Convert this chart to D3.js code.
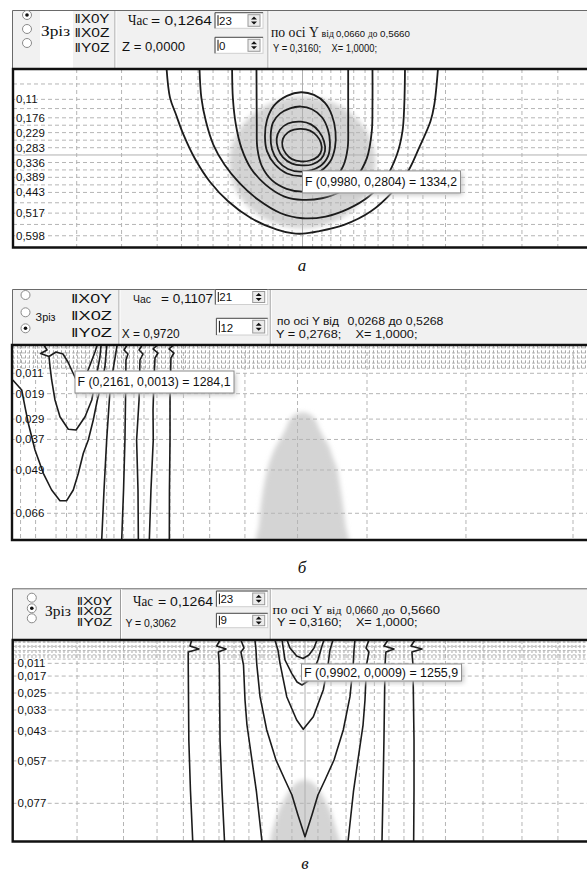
<!DOCTYPE html>
<html>
<head>
<meta charset="utf-8">
<script src="https://cdn.jsdelivr.net/npm/d3@7"></script>
<style>
  body { margin: 0; background: #fff; }
  svg { display: block; }
</style>
</head>
<body>
<svg id="fig"></svg>
<script>
// ---------- panel a : slice || X0Y ----------
const ticksA = [0.11, 0.176, 0.229, 0.283, 0.336, 0.389, 0.443, 0.517, 0.598];
const rowsA = [0.055, 0.143, 0.2025, 0.256, 0.3625, 0.416, 0.48, 0.5575];
const colsA = [0.220, 0.375, 0.498, 0.582, 0.639, 0.691, 0.743, 0.784, 0.822, 0.860, 0.898, 0.933, 0.964,
  1.035, 1.067, 1.098, 1.132, 1.177, 1.216, 1.261, 1.313, 1.364, 1.416, 1.494, 1.623, 1.758, 1.882];
const crossA = [1.0, 0.309];
const discA = [1.0, 0.336, 0.252, 0.235]; // centre x, centre y, radius x, radius y
const isoA1 = [[0.5305,0],[0.5423,0.1037],[0.5630,0.1644],[0.5889,0.2365],[0.6276,0.3208],[0.6794,0.4038],[0.7440,0.4756],[0.8214,0.5347],[0.9119,0.5762],[0.9637,0.5889],[1.0,0.5905],[1.0535,0.5825],[1.1433,0.5592],[1.2352,0.5114],[1.3125,0.4389],[1.3643,0.3680],[1.4023,0.2844],[1.4421,0.1886],[1.4552,0.1293],[1.4680,0]];
const isoA2 = [[0.6442,0],[0.6507,0.1050],[0.6663,0.1886],[0.6922,0.2726],[0.7309,0.3441],[0.7827,0.4098],[0.8473,0.4695],[0.9250,0.5174],[1.0,0.5353],[1.0801,0.5292],[1.1578,0.5018],[1.2289,0.4577],[1.2870,0.3920],[1.3260,0.3083],[1.3453,0.2247],[1.3516,0.1290],[1.3540,0]];
const isoA3 = [[0.7568,0],[0.7595,0.1050],[0.7699,0.2008],[0.7892,0.2844],[0.8214,0.3562],[0.8732,0.4159],[0.9379,0.4577],[1.0,0.4695],[1.0673,0.4638],[1.1320,0.4399],[1.1838,0.3920],[1.2224,0.3202],[1.2393,0.2247],[1.2417,0.1290],[1.2417,0]];
const isoA4 = [[0.8410,0],[0.8415,0.1050],[0.8420,0.2008],[0.8440,0.2844],[0.8600,0.3500],[0.8950,0.4000],[0.9450,0.4300],[1.0,0.4400],[1.0550,0.4300],[1.1050,0.4000],[1.1400,0.3500],[1.1560,0.2844],[1.1578,0.2008],[1.1578,0.1050],[1.1578,0]];
const ringA1 = [[0.9948,0.0846],[1.0397,0.0942],[1.0776,0.1229],[1.1018,0.1676],[1.1139,0.2250],[1.1122,0.2825],[1.0949,0.3336],[1.0535,0.3719],[0.9982,0.3846],[0.9464,0.3751],[0.9049,0.3431],[0.8773,0.2953],[0.8704,0.2410],[0.8773,0.1835],[0.9015,0.1325],[0.9464,0.0974]];
const ringA2 = [[0.9948,0.1357],[1.0327,0.1452],[1.0673,0.1740],[1.0880,0.2187],[1.0949,0.2665],[1.0880,0.3144],[1.0604,0.3495],[0.9982,0.3687],[0.9499,0.3591],[0.9153,0.3304],[0.8946,0.2889],[0.8901,0.2410],[0.8980,0.1931],[0.9222,0.1612],[0.9568,0.1420]];
const ringA3 = [[0.9948,0.1899],[1.0293,0.1995],[1.0569,0.2250],[1.0742,0.2601],[1.0776,0.2953],[1.0638,0.3240],[1.0327,0.3431],[0.9982,0.3463],[0.9637,0.3399],[0.9326,0.3176],[0.9153,0.2857],[0.9108,0.2506],[0.9222,0.2187],[0.9499,0.1963]];
const ringA4 = [[0.9948,0.2155],[1.0258,0.2218],[1.0500,0.2410],[1.0638,0.2665],[1.0656,0.2921],[1.0535,0.3144],[1.0258,0.3288],[0.9948,0.3320],[0.9637,0.3240],[0.9429,0.3048],[0.9309,0.2793],[0.9326,0.2506],[0.9499,0.2282],[0.9706,0.2187]];
const tipA = "F (0,9980, 0,2804) = 1334,2";
const tipAtA = [1.0, 0.366];

// ---------- panel б : slice || Y0Z ----------
const ticksB = [0.011, 0.019, 0.029, 0.037, 0.049, 0.066];
const colsB = [0.0329, 0.0459, 0.0636, 0.0727, 0.0815, 0.0895, 0.0987, 0.1074, 0.1137, 0.1220, 0.1310,
  0.1397, 0.1509, 0.1622, 0.1738, 0.1965, 0.2270, 0.2725, 0.3326, 0.4182, 0.5108];
const fineRows = [0.001, 0.003, 0.005, 0.007, 0.009];
const lobeB = [[0.2768,0.02632],[0.2842,0.02739],[0.2885,0.02974],[0.2911,0.03261],[0.2955,0.03642],[0.2997,0.03968],[0.3032,0.04428],[0.3066,0.04833],[0.3092,0.05489],[0.3118,0.06275],[0.3140,0.0706],[0.3153,0.07846],[0.2379,0.07846],[0.2392,0.0706],[0.2409,0.06275],[0.2435,0.05489],[0.2467,0.04833],[0.2495,0.04428],[0.2539,0.03968],[0.2582,0.03642],[0.2625,0.03261],[0.2651,0.02974],[0.2694,0.02739]];
const isoB0 = [[0.0575,0.0044],[0.0636,0.00263],[0.0696,0.00342],[0.0739,0.00656],[0.0791,0.01167],[0.0835,0.01599],[0.0887,0.01285],[0.0930,0.00774],[0.0973,0.00263],[0.0990,0]];
const isoB1 = [[0.0532,0],[0.0558,0.00185],[0.0502,0.00322],[0.0575,0.0044],[0.0584,0.00841],[0.0598,0.01363],[0.0627,0.02149],[0.0670,0.02805],[0.0742,0.03300],[0.0809,0.03328],[0.0887,0.02805],[0.0945,0.02149],[0.0973,0.01481],[0.0995,0.00970],[0.1016,0.00460],[0.1025,0]];
const isoB2 = [[0.0262,0.01363],[0.0339,0.01756],[0.0367,0.02412],[0.0396,0.03065],[0.0454,0.04114],[0.0526,0.05029],[0.0598,0.05685],[0.0670,0.06106],[0.0728,0.06106],[0.0785,0.05685],[0.0829,0.05029],[0.0872,0.04243],[0.0915,0.03721],[0.0958,0.02935],[0.0993,0.02149],[0.1031,0.01493],[0.1059,0.00841],[0.1074,0.00055],[0.1076,0]];
const isoB3 = [[0.1163,0],[0.1155,0.00263],[0.1129,0.00970],[0.1103,0.01756],[0.1074,0.03721],[0.1051,0.05685],[0.1031,0.0765]];
const isoB4 = [[0.1250,0],[0.1224,0.00185],[0.1258,0.00342],[0.1241,0.00578],[0.1237,0.02149],[0.1232,0.03721],[0.1220,0.05685],[0.1204,0.0765]];
const isoB5 = [[0.1380,0],[0.1354,0.00185],[0.1388,0.00342],[0.1362,0.00578],[0.1354,0.02149],[0.1333,0.03721],[0.1345,0.05685],[0.1348,0.0765]];
const isoB6 = [[0.1509,0],[0.1475,0.00145],[0.1518,0.00303],[0.1492,0.00499],[0.1483,0.01363],[0.1475,0.02542],[0.1477,0.03721],[0.1457,0.05685],[0.1443,0.0765]];
const isoB7 = [[0.1648,0],[0.1613,0.00145],[0.1656,0.00303],[0.1630,0.00499],[0.1622,0.02149],[0.1622,0.03721],[0.1617,0.05685],[0.1616,0.0765]];
const tipB = "F (0,2161, 0,0013) = 1284,1";
const tipAtB = [0.0800, 0.0101];

// ---------- panel в : slice || X0Z ----------
const ticksC = [0.011, 0.017, 0.025, 0.033, 0.043, 0.057, 0.077];
const colsC = [0.1188, 0.1590, 0.1880, 0.2108, 0.2286, 0.2416, 0.2546, 0.2675, 0.2788, 0.2918, 0.3047,
  0.3272, 0.3385, 0.3515, 0.3630, 0.3760, 0.3886, 0.4016, 0.4181, 0.4375, 0.4700, 0.5037, 0.5348];
const crossC = [0.316];
const lobeC = [[0.3160,0.0660],[0.3229,0.0674],[0.3281,0.0707],[0.3333,0.0754],[0.3376,0.0802],[0.3411,0.0858],[0.3437,0.0905],[0.3463,0.0951],[0.3475,0.0990],[0.2845,0.0990],[0.2857,0.0951],[0.2874,0.0905],[0.2900,0.0858],[0.2935,0.0802],[0.2978,0.0754],[0.3030,0.0707],[0.3082,0.0674]];
const isoC1 = [[0.2180,0],[0.2165,0.00283],[0.2243,0.00424],[0.2150,0.00566],[0.2150,0.01179],[0.2155,0.04715],[0.2169,0.07073],[0.2189,0.0951]];
const isoC2 = [[0.2425,0],[0.2396,0.00283],[0.2477,0.00424],[0.2410,0.00566],[0.2419,0.01179],[0.2425,0.04715],[0.2442,0.07073],[0.2464,0.0951]];
const isoC3 = [[0.2606,0],[0.2632,0.00377],[0.2606,0.00566],[0.2628,0.01179],[0.2641,0.02829],[0.2658,0.04008],[0.2701,0.05658],[0.2740,0.07153],[0.2788,0.0951]];
const isoC4 = [[0.2727,0],[0.2736,0.00472],[0.2742,0.01099],[0.2771,0.02673],[0.2829,0.04244],[0.2909,0.05658],[0.2987,0.06601],[0.3047,0.07308],[0.3099,0.08251],[0.3160,0.09275],[0.3220,0.08251],[0.3272,0.07308],[0.3333,0.06601],[0.3411,0.05658],[0.3491,0.04244],[0.3549,0.02673],[0.3578,0.01099],[0.3584,0.00472],[0.3592,0]];
const isoC5 = [[0.2900,0],[0.2926,0.00472],[0.2944,0.01099],[0.3002,0.02673],[0.3088,0.03772],[0.3145,0.04211],[0.3232,0.03616],[0.3318,0.02358],[0.3361,0.01099],[0.3376,0.00472],[0.3402,0]];
const isoC6 = [[0.2961,0],[0.2987,0.00943],[0.3045,0.0157],[0.3091,0.0198],[0.3134,0.02122],[0.3186,0.01933],[0.3229,0.01509],[0.3272,0.00943],[0.3307,0.00283],[0.3324,0]];
const isoC7 = [[0.3004,0],[0.3030,0.00377],[0.3088,0.00754],[0.3143,0.00872],[0.3194,0.00707],[0.3238,0.00377],[0.3264,0]];
const isoC8 = [[0.3713,0],[0.3688,0.00377],[0.3713,0.00566],[0.3692,0.01179],[0.3679,0.02829],[0.3662,0.04008],[0.3618,0.05658],[0.3579,0.07153],[0.3532,0.0951]];
const isoC9 = [[0.3878,0],[0.3843,0.00283],[0.3930,0.00424],[0.3860,0.00566],[0.3852,0.01179],[0.3843,0.04715],[0.3835,0.07073],[0.3826,0.0951]];
const isoC10 = [[0.4111,0],[0.4077,0.00283],[0.4172,0.00424],[0.4085,0.00566],[0.4094,0.01179],[0.4103,0.04715],[0.4103,0.07073],[0.4100,0.0951]];
const tipC = "F (0,9902, 0,0009) = 1255,9";
const tipAtC = [0.3130, 0.0113];

const captions = ["a", "б", "в"];

// ---------- drawing ----------
const W = 587, H = 872;
const SANS = "'Liberation Sans', Arial, sans-serif";
const SERIF = "'Liberation Serif', 'Times New Roman', serif";
const svg = d3.select("#fig").attr("width", W).attr("height", H);
svg.append("rect").attr("width", W).attr("height", H).attr("fill", "#fff");
const defs = svg.append("defs");
defs.append("filter").attr("id", "soft").attr("x", "-20%").attr("y", "-20%").attr("width", "140%").attr("height", "140%")
  .append("feGaussianBlur").attr("stdDeviation", 2.5);

// text stretched to the width it has in the screenshot
function txt(g, x, y, s, len, size = 12, fam = SANS) {
  const t = g.append("text").attr("x", x).attr("y", y).text(s)
    .attr("font-size", size).attr("font-family", fam).attr("fill", "#111");
  if (len) t.attr("textLength", len).attr("lengthAdjust", "spacingAndGlyphs");
  return t;
}

function radio(g, x, y, on) {
  g.append("circle").attr("cx", x).attr("cy", y).attr("r", 4.5)
    .attr("fill", "#fff").attr("stroke", "#8a8a8a");
  if (on) g.append("circle").attr("cx", x).attr("cy", y).attr("r", 1.8).attr("fill", "#111");
}

function spinBox(g, x, y, w, h, val) {
  g.append("rect").attr("x", x).attr("y", y).attr("width", w).attr("height", h)
    .attr("fill", "#fff").attr("stroke", "#d0d0d0");
  g.append("path").attr("d", `M${x},${y + h}V${y}H${x + w}`).attr("fill", "none").attr("stroke", "#505050");
  g.append("line").attr("x1", x + 3).attr("x2", x + 3).attr("y1", y + 2.5).attr("y2", y + h - 2.5)
    .attr("stroke", "#111");
  txt(g, x + 4, y + h - 3.5, val, null, 11.5);
  const bx = x + w - 15, bw = 12;
  g.append("rect").attr("x", bx).attr("y", y + 2).attr("width", bw).attr("height", h - 4)
    .attr("fill", "#ececec").attr("stroke", "#9a9a9a");
  const mx = bx + bw / 2, my = y + h / 2;
  g.append("path")
    .attr("d", `M${mx - 3},${my - 1}L${mx},${my - 4}L${mx + 3},${my - 1}Z M${mx - 3},${my + 1}L${mx},${my + 4}L${mx + 3},${my + 1}Z`)
    .attr("fill", "#111");
}

function toolbar(top, bottom, seps) {
  const g = svg.append("g");
  g.append("rect").attr("x", 12).attr("y", top).attr("width", W - 12).attr("height", bottom - top)
    .attr("fill", "#f1f1f1");
  g.append("path").attr("d", `M12.5,${bottom}V${top + 0.5}H${W}`).attr("fill", "none").attr("stroke", "#6a6a6a");
  seps.forEach(sx => {
    g.append("line").attr("x1", sx).attr("x2", sx).attr("y1", top + 1).attr("y2", bottom).attr("stroke", "#9c9c9c");
    g.append("line").attr("x1", sx + 1).attr("x2", sx + 1).attr("y1", top + 1).attr("y2", bottom).attr("stroke", "#fff");
  });
  return g;
}

function plot(p) {
  const g = svg.append("g");
  const id = "clip-" + p.id;
  defs.append("clipPath").attr("id", id).append("rect")
    .attr("x", p.left).attr("y", p.top).attr("width", W - p.left).attr("height", p.bottom - p.top);
  g.append("rect").attr("x", p.left).attr("y", p.top).attr("width", W - p.left).attr("height", p.bottom - p.top)
    .attr("fill", "#fff");
  const c = g.append("g").attr("clip-path", `url(#${id})`);
  const open = d3.line().x(d => p.x(d[0])).y(d => p.y(d[1])).curve(p.smooth ? d3.curveCatmullRom : d3.curveLinear);
  const closed = d3.line().x(d => p.x(d[0])).y(d => p.y(d[1])).curve(d3.curveCatmullRomClosed);

  // warm zone
  if (p.disc) {
    c.append("ellipse")
      .attr("cx", p.x(p.disc[0])).attr("cy", p.y(p.disc[1]))
      .attr("rx", p.x(p.disc[2]) - p.x(0)).attr("ry", p.y(p.disc[3]) - p.y(0))
      .attr("fill", "#d4d4d4").attr("filter", "url(#soft)");
  }
  if (p.lobe) {
    c.append("path").attr("d", closed(p.lobe)).attr("fill", "#d4d4d4").attr("filter", "url(#soft)");
  }

  // fine mesh near the surface
  if (p.fine) {
    const xs = d3.range(p.x.domain()[0], p.x.domain()[1] + 0.1, p.fineStep);
    c.selectAll(null).data(xs).join("line")
      .attr("x1", d => p.x(d)).attr("x2", d => p.x(d))
      .attr("y1", p.y(0)).attr("y2", p.y(p.fine))
      .attr("stroke", "#a8a8a8").attr("stroke-dasharray", "3,2");
    c.selectAll(null).data(fineRows).join("line")
      .attr("x1", p.left).attr("x2", W).attr("y1", d => p.y(d)).attr("y2", d => p.y(d))
      .attr("stroke", "#b8b8b8").attr("stroke-dasharray", "3,2");
  }

  // grid
  c.selectAll(null).data(p.cols).join("line")
    .attr("x1", d => p.x(d)).attr("x2", d => p.x(d)).attr("y1", p.top).attr("y2", p.bottom)
    .attr("stroke", "#b5b5b5").attr("stroke-dasharray", "4,3");
  c.selectAll(null).data(p.rows).join("line")
    .attr("x1", p.left).attr("x2", W).attr("y1", d => p.y(d)).attr("y2", d => p.y(d))
    .attr("stroke", "#b5b5b5").attr("stroke-dasharray", "4,3");
  if (p.cross) {
    c.append("line").attr("x1", p.x(p.cross[0])).attr("x2", p.x(p.cross[0]))
      .attr("y1", p.top).attr("y2", p.bottom).attr("stroke", "#b0b0b0");
    if (p.cross.length > 1) {
      c.append("line").attr("x1", p.left).attr("x2", W)
        .attr("y1", p.y(p.cross[1])).attr("y2", p.y(p.cross[1])).attr("stroke", "#b0b0b0");
    }
  }

  // tick labels
  c.selectAll(null).data(p.ticks).join("text")
    .attr("x", p.labelX).attr("y", d => p.y(d) + 4)
    .text(d => String(d).replace(".", ","))
    .attr("font-family", SANS).attr("font-size", 11.5).attr("fill", "#111")
    .attr("stroke", "#fff").attr("stroke-width", 2.5).attr("paint-order", "stroke");

  // isolines
  c.selectAll(null).data(p.iso).join("path")
    .attr("d", d => open(d)).attr("fill", "none")
    .attr("stroke", "#1c1c1c").attr("stroke-width", p.sw).attr("stroke-linejoin", "round");
  if (p.rings) {
    c.selectAll(null).data(p.rings).join("path")
      .attr("d", d => closed(d)).attr("fill", "none")
      .attr("stroke", "#1c1c1c").attr("stroke-width", p.sw);
  }

  // frame
  g.append("path").attr("d", `M${W},${p.top}H${p.left}V${p.bottom}H${W}`)
    .attr("fill", "none").attr("stroke", "#111").attr("stroke-width", 2.4);

  // hint box
  const tx = p.x(p.tipAt[0]), ty = p.y(p.tipAt[1]);
  g.append("rect").attr("x", tx + 2).attr("y", ty + 2).attr("width", p.tipW).attr("height", p.tipH)
    .attr("fill", "#c4c4c4").attr("filter", "url(#soft)");
  g.append("rect").attr("x", tx).attr("y", ty).attr("width", p.tipW).attr("height", p.tipH)
    .attr("fill", "#fff").attr("stroke", "#8c8c8c");
  txt(g, tx + 2.5, ty + p.tipH / 2 + 4.3, p.tip, p.tipW - 6);

  // caption
  svg.append("text").attr("x", p.capX).attr("y", p.capY).attr("text-anchor", "middle")
    .attr("font-family", SERIF).attr("font-style", "italic").attr("font-size", 17)
    .attr("fill", "#111").text(p.caption);
}

const GAP = "\u00a0\u00a0\u00a0\u00a0";

// ----- panel a -----
const xA = d3.scaleLinear().domain([0, 2]).range([13, 592]);
const yA = d3.scaleLinear().domain([0, 0.64]).range([68.6, 247.5]);
const tA = toolbar(10, 68.5, [115, 268]);
tA.append("rect").attr("x", 40).attr("y", 11).attr("width", 33).attr("height", 57).attr("fill", "#fff");
radio(tA, 27, 15, true); radio(tA, 27, 29, false); radio(tA, 27, 43, false);
txt(tA, 41, 36, "Зріз", 29, 15, SERIF);
txt(tA, 74.5, 22.5, "\u2016X0Y", 35);
txt(tA, 74.5, 37, "\u2016X0Z", 35);
txt(tA, 74.5, 51.5, "\u2016Y0Z", 35);
txt(tA, 128, 25, "Час", 20, 14, SERIF);
txt(tA, 151, 25, "= 0,1264", 61);
txt(tA, 122, 51, "Z = 0,0000", 63);
spinBox(tA, 215, 12.7, 48, 15.6, "23");
spinBox(tA, 215, 37.3, 48, 16, "0");
txt(tA, 271, 37, "по осі Y", 48, 14, SERIF);
txt(tA, 321.5, 37, "від", 12.5, 10, SERIF);
txt(tA, 336, 37, "0,0660", 29, 9.5);
txt(tA, 368, 37, "до", 9.5, 9.5, SERIF);
txt(tA, 380, 37, "0,5660", 30, 9.5);
txt(tA, 273, 51.5, "Y = 0,3160;" + GAP + "X= 1,0000;", 104, 10);

plot({
  id: "a", x: xA, y: yA, left: 13, top: 69, bottom: 247.5, labelX: 16,
  ticks: ticksA, rows: ticksA.concat(rowsA), cols: colsA, cross: crossA, disc: discA,
  iso: [isoA1, isoA2, isoA3, isoA4], rings: [ringA1, ringA2, ringA3, ringA4], smooth: true, sw: 1.8,
  tip: tipA, tipAt: tipAtA, tipW: 158, tipH: 22, caption: captions[0], capX: 302, capY: 271
});

// ----- panel б -----
const xB = d3.scaleLinear().domain([0.0268, 0.5268]).range([13.5, 591.5]);
const yB = d3.scaleLinear().domain([0, 0.0765]).range([345.3, 540]);
const tB = toolbar(289, 344.5, [119, 270.3]);
radio(tB, 25.5, 295, false); radio(tB, 25.5, 312.3, false); radio(tB, 25.5, 328.3, true);
txt(tB, 35.6, 320.5, "Зріз", 20, 11);
txt(tB, 71, 302.5, "\u2016X0Y", 41);
txt(tB, 71, 320, "\u2016X0Z", 41);
txt(tB, 71, 336.5, "\u2016Y0Z", 41);
txt(tB, 133, 303, "Час", 18, 11);
txt(tB, 161, 303, "= 0,1107", 52);
txt(tB, 121.7, 338, "X = 0,9720", 58);
spinBox(tB, 215.3, 289.5, 52.4, 15, "21");
spinBox(tB, 216.4, 318.3, 51.3, 16.7, "12");
txt(tB, 277, 325, "по осі Y від", 62, 10.5);
txt(tB, 347.4, 325, "0,0268 до 0,5268", 96, 11.5);
txt(tB, 276, 337.5, "Y = 0,2768;" + GAP + "X= 1,0000;", 141.5, 11);

plot({
  id: "b", x: xB, y: yB, left: 12, top: 345, bottom: 540, labelX: 15.5,
  ticks: ticksB, rows: ticksB, cols: colsB, lobe: lobeB, fine: 0.0092, fineStep: 0.00346,
  iso: [isoB0, isoB1, isoB2, isoB3, isoB4, isoB5, isoB6, isoB7], smooth: false, sw: 1.6,
  tip: tipB, tipAt: tipAtB, tipW: 159, tipH: 22, caption: captions[1], capX: 302, capY: 573
});

// ----- panel в -----
const xC = d3.scaleLinear().domain([0.066, 0.566]).range([16, 594]);
const yC = d3.scaleLinear().domain([0, 0.095]).range([640, 841.5]);
const tC = toolbar(588.3, 639.5, [120.5, 270.3]);
radio(tC, 31.8, 597.7, false); radio(tC, 31.8, 608.3, true); radio(tC, 31.8, 618.3, false);
txt(tC, 45, 616, "Зріз", 26, 14, SERIF);
txt(tC, 76.7, 604.5, "\u2016X0Y", 35.6, 10);
txt(tC, 76.7, 615, "\u2016X0Z", 35.6, 10);
txt(tC, 76.7, 625.5, "\u2016Y0Z", 35.6, 10);
txt(tC, 133, 605.5, "Час", 20, 14, SERIF);
txt(tC, 158, 605.5, "= 0,1264", 55);
txt(tC, 125.4, 627, "Y = 0,3062", 50.6, 11);
spinBox(tC, 216.4, 591, 51.3, 15.7, "23");
spinBox(tC, 216.4, 613.3, 51.3, 14.4, "9");
txt(tC, 272.6, 613.5, "по осі Y", 50, 12, SERIF);
txt(tC, 326.5, 613.5, "від", 15, 10, SERIF);
txt(tC, 346, 613.5, "0,0660", 32, 10.5);
txt(tC, 382, 613.5, "до", 13, 10, SERIF);
txt(tC, 400, 613.5, "0,5660", 40, 10.5);
txt(tC, 277, 625.5, "Y = 0,3160;" + GAP + "X= 1,0000;", 140.5, 10.5);

plot({
  id: "c", x: xC, y: yC, left: 12.7, top: 640, bottom: 841.5, labelX: 17.5,
  ticks: ticksC, rows: ticksC, cols: colsC, cross: crossC, lobe: lobeC, fine: 0.0092, fineStep: 0.00346,
  iso: [isoC1, isoC2, isoC3, isoC4, isoC5, isoC6, isoC7, isoC8, isoC9, isoC10], smooth: false, sw: 1.6,
  tip: tipC, tipAt: tipAtC, tipW: 160, tipH: 17, caption: captions[2], capX: 305, capY: 869
});
</script>
</body>
</html>
